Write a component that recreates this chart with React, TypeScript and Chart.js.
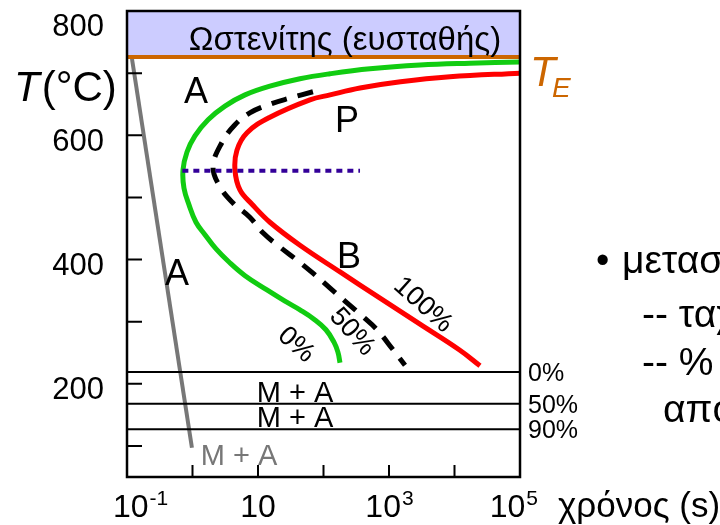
import React, { useEffect, useRef } from "react";
import { Chart, registerables } from "chart.js";

Chart.register(...registerables);

// ---------- data (time in s, temperature in °C) ----------
const start0Time = [100000, 17260, 2970, 513, 125.6, 43.7, 15.2, 6.34, 3.13, 1.73, 1.09, 0.824, 0.716, 0.741, 0.885, 1.13, 1.55, 2.29, 3.61, 6.34, 13.7, 25.8, 43.7, 71.6, 109, 144.5, 166, 178.6];
const start0Temp = [718, 716, 713, 707, 699, 691, 679, 665, 647, 625, 599, 573, 544, 515, 488, 460, 440, 417, 396, 374, 351, 333, 319, 304, 287, 267, 251, 234];

const half50Time = [69, 31, 15.2, 7.5, 4.45, 2.8, 2.06, 2.63, 4.15, 7.5, 11.9, 21.7, 39.4, 69, 126, 213, 400, 656, 1150, 1755];
const half50Temp = [670, 660, 650, 636, 617, 588, 549, 517, 491, 468, 443, 420, 399, 378, 354, 333, 308, 287, 255, 230];

const end100Time = [100000, 8500, 1500, 361, 126, 62, 15.2, 6.8, 4.77, 4.45, 5.3, 8.1, 15.2, 43.7, 179, 729, 2970, 12100, 24500];
const end100Temp = [700, 694, 686, 676, 665, 657, 629, 604, 576, 544, 512, 489, 460, 423, 380, 338, 296, 254, 229];

const isoTime = [0.7, 361];
const isoTemp = [543, 543];

const coolTime = [0.1035, 0.98];
const coolTemp = [765, 97];

const teTemp = 726;
const msLevels = [219, 168, 127];
const msLabels = ["0%", "50%", "90%"];

const yTicks = [100, 200, 300, 400, 500, 600, 700];
const yTickLabels = [200, 400, 600, 800];
const xTicks = [1, 10, 100, 1000, 10000];
const xTickLabels: { v: number; base: string; sup: string }[] = [
  { v: 0.1, base: "10", sup: "-1" },
  { v: 10, base: "10", sup: "" },
  { v: 1000, base: "10", sup: "3" },
  { v: 100000, base: "10", sup: "5" },
];

const FONT = '"Liberation Sans", Arial, sans-serif';

type Txt = { s: string; x: number; y: number; size: number; color?: string; align?: CanvasTextAlign; rot?: number; italic?: boolean };

const plotTexts: Txt[] = [
  { s: "Ωστενίτης (ευσταθής)", x: 345, y: 50, size: 33, align: "center" },
  { s: "A", x: 196, y: 103, size: 36, align: "center" },
  { s: "P", x: 347, y: 132, size: 36, align: "center" },
  { s: "B", x: 349, y: 268, size: 36, align: "center" },
  { s: "A", x: 177, y: 285, size: 36, align: "center" },
  { s: "M + A", x: 295, y: 402, size: 29, align: "center" },
  { s: "M + A", x: 295, y: 427, size: 29, align: "center" },
  { s: "M + A", x: 239, y: 465, size: 29, align: "center", color: "#777777" },
  { s: "0%", x: 296, y: 345, size: 27, align: "center", rot: 42 },
  { s: "50%", x: 352, y: 332, size: 27, align: "center", rot: 48 },
  { s: "100%", x: 423, y: 305, size: 27, align: "center", rot: 42 },
  { s: "χρόνος (s)", x: 558, y: 517, size: 35 },
  { s: "•", x: 596, y: 273, size: 38 },
  { s: "μετασχηματισμός εξαρτάται από:", x: 622, y: 273, size: 39 },
  { s: "-- ταχύτητα ψύξης", x: 642, y: 327, size: 39 },
  { s: "-- % μαρτενσίτη εξαρτάται", x: 642, y: 375, size: 39 },
  { s: "από τη θερμοκρασία", x: 663, y: 422, size: 39 },
];

const zip = (t: number[], v: number[]) => t.map((x, i) => ({ x, y: v[i] }));

function drawText(ctx: CanvasRenderingContext2D, t: Txt) {
  ctx.save();
  ctx.font = `${t.italic ? "italic " : ""}${t.size}px ${FONT}`;
  ctx.fillStyle = t.color || "#000";
  ctx.textAlign = t.align || "left";
  if (t.rot) {
    ctx.textBaseline = "middle";
    ctx.translate(t.x, t.y);
    ctx.rotate((t.rot * Math.PI) / 180);
    ctx.fillText(t.s, 0, 0);
  } else {
    ctx.textBaseline = "alphabetic";
    ctx.fillText(t.s, t.x, t.y);
  }
  ctx.restore();
}

const decorPlugin = {
  id: "decor",
  afterDraw(chart: any) {
    const ctx: CanvasRenderingContext2D = chart.ctx;
    const { left, right, top, bottom } = chart.chartArea;
    const xs = chart.scales.x;
    const ys = chart.scales.y;
    ctx.save();
    // frame
    ctx.strokeStyle = "#000";
    ctx.lineWidth = 2.5;
    ctx.strokeRect(left, top, right - left, bottom - top);
    // inward ticks
    ctx.lineWidth = 2;
    ctx.beginPath();
    yTicks.forEach((v) => {
      const y = ys.getPixelForValue(v);
      ctx.moveTo(left, y);
      ctx.lineTo(left + 15, y);
    });
    xTicks.forEach((v) => {
      const x = xs.getPixelForValue(v);
      ctx.moveTo(x, bottom);
      ctx.lineTo(x, bottom - 12);
    });
    ctx.stroke();
    // y tick labels
    ctx.fillStyle = "#000";
    ctx.font = `31px ${FONT}`;
    ctx.textAlign = "right";
    ctx.textBaseline = "middle";
    yTickLabels.forEach((v) => {
      const y = Math.max(ys.getPixelForValue(v) + 7, top + 16);
      ctx.fillText(String(v), 104, y);
    });
    // x tick labels
    ctx.textAlign = "left";
    ctx.textBaseline = "alphabetic";
    xTickLabels.forEach((l) => {
      ctx.font = `32px ${FONT}`;
      const wb = ctx.measureText(l.base).width;
      ctx.font = `21px ${FONT}`;
      const ws = l.sup ? ctx.measureText(l.sup).width : 0;
      let x0 = xs.getPixelForValue(l.v) - (wb + ws) / 2;
      x0 = Math.max(113, Math.min(x0, 537 - wb - ws));
      ctx.font = `32px ${FONT}`;
      ctx.fillText(l.base, x0, 517);
      if (l.sup) {
        ctx.font = `21px ${FONT}`;
        ctx.fillText(l.sup, x0 + wb + 1, 505);
      }
    });
    // Ms labels on the right
    ctx.font = `25px ${FONT}`;
    ctx.textBaseline = "middle";
    msLevels.forEach((v, i) => {
      ctx.fillText(msLabels[i], right + 8, ys.getPixelForValue(v) + 2);
    });
    // T(°C)
    ctx.textBaseline = "alphabetic";
    ctx.font = `italic 42px ${FONT}`;
    ctx.fillText("T", 14, 101);
    const wT = ctx.measureText("T").width;
    ctx.font = `42px ${FONT}`;
    ctx.fillText("(°C)", 14 + wT + 2, 101);
    // T_E
    ctx.fillStyle = "#cc6600";
    ctx.font = `italic 42px ${FONT}`;
    ctx.fillText("T", 530, 86);
    ctx.font = `italic 28px ${FONT}`;
    ctx.fillText("E", 552, 97);
    ctx.restore();
    plotTexts.forEach((t) => drawText(ctx, t));
  },
};

export default function App() {
  const ref = useRef<HTMLCanvasElement | null>(null);
  useEffect(() => {
    document.body.style.margin = "0";
    if (!ref.current) return;
    const line = (data: { x: number; y: number }[], color: string, width: number, extra: any = {}) => ({
      data,
      borderColor: color,
      borderWidth: width,
      pointRadius: 0,
      showLine: true,
      fill: false,
      ...extra,
    });
    const chart = new Chart(ref.current, {
      type: "scatter",
      data: {
        datasets: [
          line([{ x: 0.1, y: teTemp }, { x: 100000, y: teTemp }], "#cc6600", 4, { fill: "end", backgroundColor: "#ccccff" }),
          ...msLevels.map((v) => line([{ x: 0.1, y: v }, { x: 100000, y: v }], "#000000", 2)),
          line(zip(coolTime, coolTemp), "#777777", 4),
          line(zip(isoTime, isoTemp), "#330099", 4, { borderDash: [6, 5] }),
          line(zip(start0Time, start0Temp), "#11cc11", 5, { tension: 0.4 }),
          line(zip(half50Time, half50Temp), "#000000", 5, { tension: 0.4, borderDash: [16, 11] }),
          line(zip(end100Time, end100Temp), "#ff0000", 5, { tension: 0.4 }),
        ],
      },
      options: {
        responsive: false,
        maintainAspectRatio: false,
        devicePixelRatio: 1,
        animation: false,
        layout: { padding: { left: 127, top: 11, right: 200, bottom: 48 } },
        plugins: { legend: { display: false }, tooltip: { enabled: false } },
        scales: {
          x: { type: "logarithmic", min: 0.1, max: 100000, display: false },
          y: { type: "linear", min: 50, max: 800, display: false },
        },
      },
      plugins: [decorPlugin],
    } as any);
    return () => chart.destroy();
  }, []);
  return <canvas ref={ref} width={720} height={525} style={{ display: "block" }} />;
}
